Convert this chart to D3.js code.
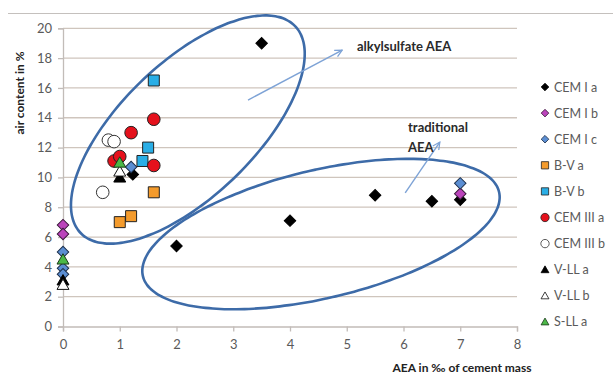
<!DOCTYPE html>
<html>
<head>
<meta charset="utf-8">
<script src="https://cdn.jsdelivr.net/npm/d3@7"></script>
<style>
  html, body { margin: 0; padding: 0; background: #fff; }
  svg { display: block; }
  text { font-family: Lato, "Open Sans", sans-serif; }
</style>
</head>
<body>
<svg id="chart" width="613" height="382"></svg>
<script>
// ---- data -------------------------------------------------------------
const xTicks = [0, 1, 2, 3, 4, 5, 6, 7, 8];
const yTicks = [0, 2, 4, 6, 8, 10, 12, 14, 16, 18, 20];

// [AEA dosage in ‰ of cement mass, air content in %]
const cemIa   = [[1.23, 10.2], [2.0, 5.4], [3.5, 19.0], [4.0, 7.1], [5.5, 8.8], [6.5, 8.4], [7.0, 8.5]];
const cemIb   = [[0, 6.8], [0, 6.2], [7.0, 8.9]];
const cemIc   = [[0, 5.0], [0, 3.9], [0, 3.5], [1.2, 10.7], [7.0, 9.6]];
const bVa     = [[1.0, 7.0], [1.2, 7.4], [1.6, 9.0]];
const bVb     = [[1.6, 16.5], [1.5, 12.0], [1.4, 11.1]];
const cemIIIa = [[1.6, 13.9], [1.2, 13.0], [0.9, 11.1], [1.0, 11.4], [1.6, 10.8]];
const cemIIIb = [[0.8, 12.5], [0.9, 12.4], [0.7, 9.0]];
const vLLa    = [[0, 3.1], [1.0, 10.0]];
const vLLb    = [[0, 2.8], [1.0, 10.4]];
const sLLa    = [[0, 4.5], [1.0, 11.0]];

const seriesNames = ["CEM I a", "CEM I b", "CEM I c", "B-V a", "B-V b",
                     "CEM III a", "CEM III b", "V-LL a", "V-LL b", "S-LL a"];
const seriesData  = [cemIa, cemIb, cemIc, bVa, bVb, cemIIIa, cemIIIb, vLLa, vLLb, sLLa];

// group outlines: centre, first semi-axis, second semi-axis (data units)
const alkylRing = { c: [2.20, 13.21], u: [1.889, 6.94], v: [0.821, -3.23] };
const tradRing  = { c: [4.546, 6.20], u: [3.138, 2.824], v: [0.259, -4.18] };

// annotation arrows [x0, y0, x1, y1]
const alkylArrow = [3.26, 15.19, 4.92, 18.54];
const tradArrow  = [6.03, 8.96, 6.64, 12.37];

// ---- styles -----------------------------------------------------------
const markStyle = {
  "CEM I a":   { shape: "diamond",  fill: "#000000", stroke: "#000000" },
  "CEM I b":   { shape: "diamond",  fill: "#bb44bb", stroke: "#3a1a3a" },
  "CEM I c":   { shape: "diamond",  fill: "#5b8ed3", stroke: "#1d2f4a" },
  "B-V a":     { shape: "square",   fill: "#f49b2c", stroke: "#222222" },
  "B-V b":     { shape: "square",   fill: "#2aaee6", stroke: "#222222" },
  "CEM III a": { shape: "circle",   fill: "#e5111c", stroke: "#222222" },
  "CEM III b": { shape: "circle",   fill: "#ffffff", stroke: "#333333" },
  "V-LL a":    { shape: "triangle", fill: "#000000", stroke: "#000000" },
  "V-LL b":    { shape: "triangle", fill: "#ffffff", stroke: "#111111" },
  "S-LL a":    { shape: "triangle", fill: "#4cb848", stroke: "#1b3b1a" }
};

// ---- layout -----------------------------------------------------------
const svg = d3.select("#chart");
const x = d3.scaleLinear().domain([0, 8]).range([63, 517]);
const y = d3.scaleLinear().domain([0, 20]).range([326.5, 28.3]);

// frame line across the top
svg.append("line")
  .attr("x1", 8).attr("x2", 613).attr("y1", 13.5).attr("y2", 13.5)
  .attr("stroke", "#c4c0bd").attr("stroke-width", 1.2);

// horizontal gridlines
svg.append("g").selectAll("line").data(yTicks.filter(d => d > 0)).join("line")
  .attr("x1", x(0)).attr("x2", x(8))
  .attr("y1", d => y(d)).attr("y2", d => y(d))
  .attr("stroke", "#cfc5bd").attr("stroke-width", 1.3);

// axes
const yAxis = svg.append("g")
  .attr("transform", `translate(${x(0)},0)`)
  .call(d3.axisLeft(y).tickValues(yTicks).tickSize(5).tickPadding(6).tickFormat(d3.format("d")));
const xAxis = svg.append("g")
  .attr("transform", `translate(0,${y(0)})`)
  .call(d3.axisBottom(x).tickValues(xTicks).tickSize(5).tickPadding(8).tickFormat(d3.format("d")));
[yAxis, xAxis].forEach(g => {
  g.select(".domain").attr("stroke", "#c2bcb8").attr("stroke-width", 1.3);
  g.selectAll(".tick line").attr("stroke", "#c2bcb8").attr("stroke-width", 1.3);
  g.selectAll(".tick text").attr("fill", "#5a5a5a").attr("font-size", 13)
    .style("font-family", "Lato, 'Open Sans', sans-serif");
});

// axis titles
svg.append("text")
  .attr("transform", "translate(24,93) rotate(-90)")
  .attr("text-anchor", "middle")
  .attr("font-size", 12).attr("font-weight", "bold").attr("fill", "#222")
  .text("air content in %");
svg.append("text")
  .attr("x", 462).attr("y", 372)
  .attr("text-anchor", "middle")
  .attr("font-size", 12).attr("font-weight", "bold").attr("fill", "#222")
  .text("AEA in ‰ of cement mass");

// group outlines
const ringPath = r => {
  const pts = d3.range(0, 361, 3).map(deg => {
    const t = deg * Math.PI / 180;
    return [x(r.c[0] + Math.cos(t) * r.u[0] + Math.sin(t) * r.v[0]),
            y(r.c[1] + Math.cos(t) * r.u[1] + Math.sin(t) * r.v[1])];
  });
  return d3.line().curve(d3.curveCardinalClosed)(pts.slice(0, -1));
};
svg.append("g").selectAll("path").data([alkylRing, tradRing]).join("path")
  .attr("d", ringPath)
  .attr("fill", "none").attr("stroke", "#3d6ba8").attr("stroke-width", 2.6);

// arrows
svg.append("defs").append("marker")
  .attr("id", "head").attr("viewBox", "0 0 10 10")
  .attr("refX", 9).attr("refY", 5)
  .attr("markerWidth", 9).attr("markerHeight", 9)
  .attr("markerUnits", "userSpaceOnUse")
  .attr("orient", "auto")
  .append("path").attr("d", "M1,1 L9,5 L1,9")
  .attr("fill", "none").attr("stroke", "#7ea3d6").attr("stroke-width", 1.4);
svg.append("g").selectAll("line").data([alkylArrow, tradArrow]).join("line")
  .attr("x1", d => x(d[0])).attr("y1", d => y(d[1]))
  .attr("x2", d => x(d[2])).attr("y2", d => y(d[3]))
  .attr("stroke", "#7ea3d6").attr("stroke-width", 1.4)
  .attr("marker-end", "url(#head)");

// annotation texts
const note = svg.append("g").attr("font-size", 13).attr("font-weight", "bold").attr("fill", "#2a2a2a");
note.append("text").attr("x", x(5.18)).attr("y", y(18.5)).text("alkylsulfate AEA");
note.append("text").attr("x", x(6.08)).attr("y", y(13.05)).text("traditional");
note.append("text").attr("x", x(6.08)).attr("y", y(11.7)).text("AEA");

// markers
const symbolFor = (shape, scale) => {
  const s = scale || 1;
  if (shape === "diamond")  return d3.symbol(d3.symbolSquare, 66 * s * s)();
  if (shape === "square")   return d3.symbol(d3.symbolSquare, 121 * s * s)();
  if (shape === "circle")   return d3.symbol(d3.symbolCircle, 125 * s * s)();
  return d3.symbol(d3.symbolTriangle, 62 * s * s)();
};
const rot = shape => shape === "diamond" ? " rotate(45)" : "";
const triShift = shape => shape === "triangle" ? 1.2 : 0;

seriesNames.forEach((name, i) => {
  const st = markStyle[name];
  svg.append("g").selectAll("path").data(seriesData[i]).join("path")
    .attr("d", symbolFor(st.shape))
    .attr("transform", d => `translate(${x(d[0])},${y(d[1]) + triShift(st.shape)})${rot(st.shape)}`)
    .attr("fill", st.fill).attr("stroke", st.stroke).attr("stroke-width", 1);
});

// legend
const legend = svg.append("g").attr("transform", "translate(545,87)");
seriesNames.forEach((name, i) => {
  const st = markStyle[name];
  const row = legend.append("g").attr("transform", `translate(0,${i * 26.1})`);
  row.append("path")
    .attr("d", symbolFor(st.shape, 0.66))
    .attr("transform", `translate(0,${triShift(st.shape) * 0.6})${rot(st.shape)}`)
    .attr("fill", st.fill).attr("stroke", st.stroke).attr("stroke-width", 0.8);
  row.append("text").attr("x", 9).attr("y", 4.5)
    .attr("font-size", 12.5).attr("fill", "#5a5a5a").text(name);
});
</script>
</body>
</html>
